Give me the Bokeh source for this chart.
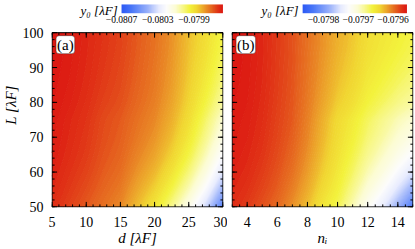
import numpy as np
from bokeh.plotting import figure
from bokeh.models import (Range1d, LinearColorMapper, LinearAxis, FixedTicker, Label, Title)
from bokeh.layouts import row
from bokeh.embed import file_html
from bokeh.resources import INLINE
from bokeh.core.properties import value

# ---------------- data ----------------
d_vals = [5, 7.5, 10, 12.5, 15, 17.5, 20, 22.5, 25, 27.5, 30]
n_vals = [3, 4, 5, 6, 7, 8, 9, 10, 11, 12, 13, 14, 15]
L_vals = [50, 55, 60, 65, 70, 75, 80, 85, 90, 95, 100]

# y0 [lambda_F], rows = L (50 -> 100), columns = d
y0_a = [
    [-0.079625, -0.079658, -0.079692, -0.079726, -0.079759, -0.079838, -0.079916, -0.080028, -0.080162, -0.080330, -0.080566],
    [-0.079614, -0.079644, -0.079674, -0.079708, -0.079738, -0.079802, -0.079866, -0.079960, -0.080076, -0.080223, -0.080419],
    [-0.079606, -0.079633, -0.079660, -0.079694, -0.079721, -0.079774, -0.079827, -0.079907, -0.080009, -0.080139, -0.080304],
    [-0.079599, -0.079624, -0.079649, -0.079683, -0.079708, -0.079753, -0.079797, -0.079866, -0.079958, -0.080075, -0.080217],
    [-0.079595, -0.079618, -0.079642, -0.079675, -0.079699, -0.079737, -0.079775, -0.079837, -0.079921, -0.080028, -0.080152],
    [-0.079591, -0.079614, -0.079636, -0.079670, -0.079692, -0.079726, -0.079759, -0.079815, -0.079894, -0.079994, -0.080106],
    [-0.079587, -0.079605, -0.079628, -0.079657, -0.079679, -0.079713, -0.079746, -0.079798, -0.079872, -0.079956, -0.080051],
    [-0.079584, -0.079600, -0.079622, -0.079649, -0.079671, -0.079705, -0.079738, -0.079787, -0.079859, -0.079932, -0.080016],
    [-0.079582, -0.079596, -0.079618, -0.079643, -0.079666, -0.079699, -0.079733, -0.079780, -0.079849, -0.079915, -0.079991],
    [-0.079581, -0.079593, -0.079615, -0.079639, -0.079661, -0.079695, -0.079728, -0.079774, -0.079842, -0.079902, -0.079972],
    [-0.079580, -0.079591, -0.079614, -0.079636, -0.079658, -0.079692, -0.079726, -0.079770, -0.079838, -0.079894, -0.079961],
]

# y0 [lambda_F], rows = L (50 -> 100), columns = n_i
y0_b = [
    [-0.0795720, -0.0795780, -0.0795870, -0.0795960, -0.0796110, -0.0796290, -0.0796500, -0.0796650, -0.0796920, -0.0797220, -0.0797490, -0.0797850, -0.0798300],
    [-0.0795691, -0.0795742, -0.0795822, -0.0795912, -0.0796043, -0.0796213, -0.0796414, -0.0796573, -0.0796795, -0.0797047, -0.0797269, -0.0797552, -0.0797887],
    [-0.0795669, -0.0795712, -0.0795785, -0.0795875, -0.0795990, -0.0796153, -0.0796346, -0.0796513, -0.0796698, -0.0796912, -0.0797097, -0.0797320, -0.0797565],
    [-0.0795652, -0.0795689, -0.0795756, -0.0795846, -0.0795950, -0.0796108, -0.0796295, -0.0796468, -0.0796624, -0.0796810, -0.0796966, -0.0797143, -0.0797320],
    [-0.0795639, -0.0795672, -0.0795735, -0.0795825, -0.0795921, -0.0796074, -0.0796257, -0.0796434, -0.0796569, -0.0796734, -0.0796869, -0.0797013, -0.0797139],
    [-0.0795630, -0.0795660, -0.0795720, -0.0795810, -0.0795900, -0.0796050, -0.0796230, -0.0796410, -0.0796530, -0.0796680, -0.0796800, -0.0796920, -0.0797010],
    [-0.0795619, -0.0795649, -0.0795709, -0.0795799, -0.0795889, -0.0796027, -0.0796184, -0.0796342, -0.0796450, -0.0796589, -0.0796686, -0.0796783, -0.0796862],
    [-0.0795611, -0.0795641, -0.0795701, -0.0795791, -0.0795881, -0.0796013, -0.0796156, -0.0796298, -0.0796400, -0.0796531, -0.0796614, -0.0796697, -0.0796768],
    [-0.0795606, -0.0795636, -0.0795696, -0.0795786, -0.0795876, -0.0796003, -0.0796135, -0.0796268, -0.0796364, -0.0796490, -0.0796563, -0.0796636, -0.0796702],
    [-0.0795602, -0.0795632, -0.0795692, -0.0795782, -0.0795872, -0.0795995, -0.0796120, -0.0796244, -0.0796337, -0.0796459, -0.0796524, -0.0796589, -0.0796651],
    [-0.0795600, -0.0795630, -0.0795690, -0.0795780, -0.0795870, -0.0795990, -0.0796110, -0.0796230, -0.0796320, -0.0796440, -0.0796500, -0.0796560, -0.0796620],
]

range_a = (-0.0807, -0.07958)
range_b = (-0.07986, -0.07956)
cbar_ticks_a = [-0.0807, -0.0803, -0.0799]
cbar_ticks_b = [-0.0798, -0.0797, -0.0796]
x_ticks_a = [5, 10, 15, 20, 25, 30]
x_ticks_b = [4, 6, 8, 10, 12, 14]
y_ticks = [50, 60, 70, 80, 90, 100]
x_lim_a = (5, 30)
x_lim_b = (3, 15)
y_lim = (50, 100)

# ---------------- style ----------------
stops = [
    (0.00, (45, 90, 245)),
    (0.10, (75, 120, 248)),
    (0.25, (150, 175, 250)),
    (0.37, (232, 236, 254)),
    (0.44, (252, 252, 252)),
    (0.53, (252, 252, 212)),
    (0.60, (248, 248, 140)),
    (0.67, (243, 242, 60)),
    (0.74, (241, 214, 50)),
    (0.81, (236, 160, 42)),
    (0.88, (230, 105, 32)),
    (0.95, (224, 50, 22)),
    (1.00, (220, 22, 18)),
]
pos = np.linspace(0, 1, 256)
sp = [s[0] for s in stops]
chans = [np.interp(pos, sp, [s[1][c] for s in stops]) for c in range(3)]
palette = ["#%02x%02x%02x" % (int(round(r)), int(round(g)), int(round(b)))
           for r, g, b in zip(*chans)]

SERIF = "Liberation Serif"
N_BANDS = 120
H = 248
FRAME_TOP = 2          # px, top of the drawing frame (colour bar lives inside)
HEAT_TOP = 33          # px, top edge of the density map
BORDER_BOTTOM = 36     # px below the density map for tick labels + axis label
FRAME_W = 182


def heat_panel(xs, grid, xlim, rng, xticks, xminor, xlabel, ylabel,
               width, bl, br, tag, cbar_ticks, cbar_px, title_px):
    lo, hi = rng
    span = hi - lo
    heat_h = H - BORDER_BOTTOM - HEAT_TOP
    px_per_y = heat_h / (y_lim[1] - y_lim[0])
    px_per_x = FRAME_W / (xlim[1] - xlim[0])

    def ypx(py):   # vertical pixel (from figure top) -> data y
        return y_lim[1] + (HEAT_TOP - py) / px_per_y

    def xpx(px):   # horizontal pixel (from frame left) -> data x
        return xlim[0] + px / px_per_x

    ex = 0.6 / px_per_x
    ey = 0.6 / px_per_y
    p = figure(width=width, height=H,
               x_range=Range1d(xlim[0] - ex, xlim[1] + ex),
               y_range=Range1d(y_lim[0] - ey, ypx(FRAME_TOP)),
               output_backend="svg", toolbar_location=None,
               x_axis_location=None, y_axis_location=None,
               min_border_left=bl, min_border_right=br,
               min_border_top=FRAME_TOP, min_border_bottom=BORDER_BOTTOM)
    for g in p.grid:
        g.visible = False
    p.outline_line_color = None
    p.background_fill_color = "white"
    p.border_fill_color = "white"

    # ---- density map: filled contour bands computed by Bokeh from the grid
    levels = list(np.linspace(lo, hi, N_BANDS + 1))
    levels[0] = lo - span * 1e-3
    levels[-1] = hi + span * 1e-3
    fill_cols = [palette[int(round((i + 0.5) / N_BANDS * 255))] for i in range(N_BANDS)]
    line_cols = [palette[int(round(i / N_BANDS * 255))] for i in range(N_BANDS + 1)]
    p.contour(x=xs, y=L_vals, z=np.array(grid), levels=levels,
              fill_color=fill_cols, line_color=line_cols, line_width=1.2)

    # frame border of the map
    p.quad(left=[xlim[0]], right=[xlim[1]], bottom=[y_lim[0]], top=[y_lim[1]],
           fill_color=None, line_color="black", line_width=1)

    # ticks (inward) on all four sides
    yminor = list(np.arange(y_lim[0], y_lim[1] + 0.001, 2))
    for xs_t, ln in ((xticks, 5), (xminor, 2.5)):
        p.ray(x=xs_t, y=[y_lim[0]] * len(xs_t), length=ln, length_units="screen",
              angle=np.pi / 2, line_color="black", line_width=1)
        p.ray(x=xs_t, y=[y_lim[1]] * len(xs_t), length=ln, length_units="screen",
              angle=-np.pi / 2, line_color="black", line_width=1)
    for ys_t, ln in ((y_ticks, 5), (yminor, 2.5)):
        p.ray(x=[xlim[0]] * len(ys_t), y=ys_t, length=ln, length_units="screen",
              angle=0, line_color="black", line_width=1)
        p.ray(x=[xlim[1]] * len(ys_t), y=ys_t, length=ln, length_units="screen",
              angle=np.pi, line_color="black", line_width=1)

    # tick labels / axis labels
    bx = LinearAxis(ticker=FixedTicker(ticks=xticks))
    bx.axis_line_color = None
    bx.major_tick_line_color = None
    bx.minor_tick_line_color = None
    bx.major_label_standoff = 3
    bx.major_label_text_font = SERIF
    bx.major_label_text_font_size = "14px"
    bx.major_label_text_color = "black"
    bx.axis_label = xlabel
    bx.axis_label_standoff = 0
    bx.axis_label_text_font = SERIF
    bx.axis_label_text_font_size = "15px"
    bx.axis_label_text_font_style = "italic"
    bx.axis_label_text_color = "black"
    p.add_layout(bx, "below")
    if ylabel:
        ly = LinearAxis(ticker=FixedTicker(ticks=y_ticks))
        ly.axis_line_color = None
        ly.major_tick_line_color = None
        ly.minor_tick_line_color = None
        ly.major_label_standoff = 2
        ly.major_label_text_font = SERIF
        ly.major_label_text_font_size = "14px"
        ly.major_label_text_color = "black"
        p.add_layout(ly, "left")
        frame_mid = (FRAME_TOP + (H - BORDER_BOTTOM)) / 2
        heat_mid = (HEAT_TOP + (H - BORDER_BOTTOM)) / 2
        p.add_layout(Title(text=ylabel, align="center", offset=-(heat_mid - frame_mid),
                           text_font=SERIF, text_font_size="15px", text_font_style="italic",
                           text_color="black", standoff=1), "left")

    # ---- colour bar (inside the frame, above the map)
    bx0, bx1 = xpx(cbar_px[0]), xpx(cbar_px[1])
    by0, by1 = ypx(13), ypx(4)
    mapper = LinearColorMapper(palette=palette, low=lo, high=hi)
    grad = np.linspace(lo, hi, 256).reshape(1, 256)
    p.image(image=[grad], x=bx0, y=by0, dw=bx1 - bx0, dh=by1 - by0, color_mapper=mapper)
    tx = [bx0 + (t - lo) / span * (bx1 - bx0) for t in cbar_ticks]
    tl = ["\u2212%.4f" % abs(t) for t in cbar_ticks]
    p.text(x=tx, y=[ypx(15.5)] * len(tx), text=tl, text_align="center", text_baseline="top",
           text_font=value(SERIF), text_font_size="9.5px", text_color="black")
    p.text(x=[xpx(title_px)], y=[ypx(10.5)], text=["y\u2080 [\u03bbF]"],
           text_align="right", text_baseline="middle", text_font=value(SERIF),
           text_font_size="13px", text_font_style="italic", text_color="black")

    lab = Label(x=xlim[0], y=y_lim[1], x_offset=4, y_offset=-3, text=tag,
                text_align="left", text_baseline="top", text_font=SERIF,
                text_font_size="15px", text_color="black",
                background_fill_color="white", border_line_color="black",
                border_line_alpha=0.35, border_radius=3, padding=1)
    p.add_layout(lab)
    return p


pa = heat_panel(d_vals, y0_a, x_lim_a, range_a, x_ticks_a,
                list(np.arange(5, 30.01, 1)), "d [\u03bbF]", "L [\u03bbF]",
                227, 41, 4, "(a)", cbar_ticks_a, (74, 182), 70)
pb = heat_panel(n_vals, y0_b, x_lim_b, range_b, x_ticks_b,
                list(np.arange(3, 15.01, 0.5)), "n\u1d62", "",
                187, 4, 1, "(b)", cbar_ticks_b, (71, 176), 67)

layout = row(pa, pb, spacing=0)
open("out.html", "w").write(file_html(layout, INLINE))
